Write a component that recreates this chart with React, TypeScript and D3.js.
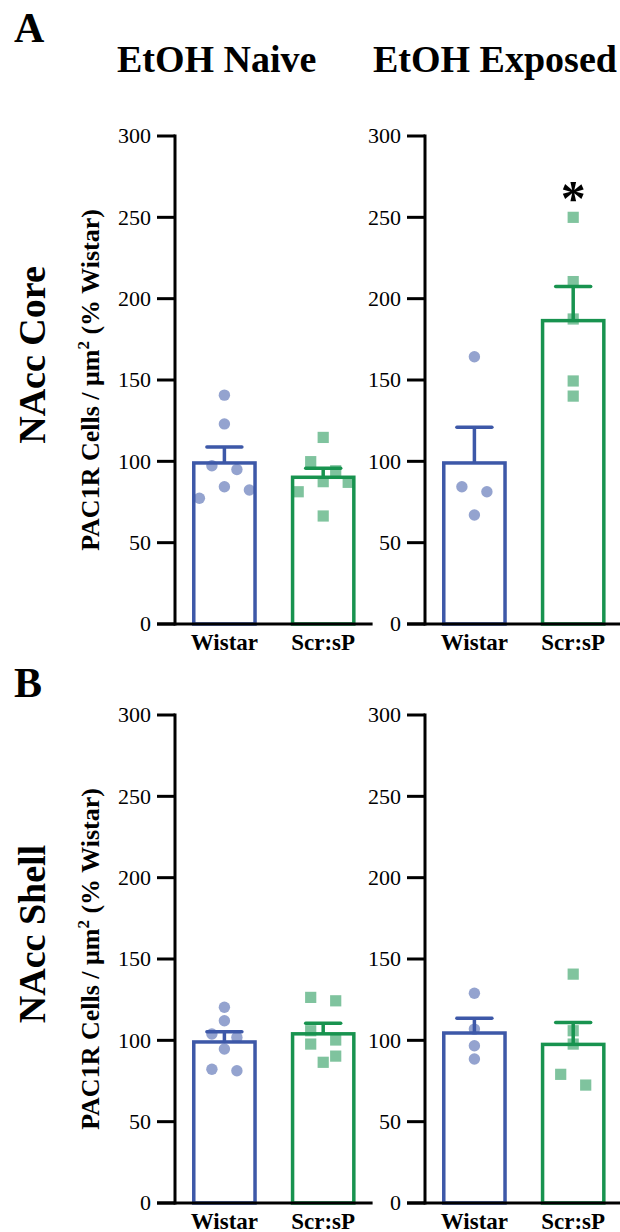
import * as d3 from "d3";

const FONT = "'Liberation Serif', 'Times New Roman', serif";
const BLUE = "#3d58a8";
const GREEN = "#18934f";

const groups = ["Wistar", "Scr:sP"];
const ticks = [0, 50, 100, 150, 200, 250, 300];

// NAcc core
const coreNaiveWistar = [140.7, 123, 97.3, 95, 84.4, 82.4, 77.3];
const coreNaiveScr = [114.7, 99.8, 94.2, 87.5, 87.1, 81.3, 66.4];
const coreNaiveMean = [99, 90.2];
const coreNaiveSem = [9.8, 5.5];

const coreExposedWistar = [164.3, 84.4, 81.3, 67];
const coreExposedScr = [250, 210.5, 187.5, 149.4, 140.1];
const coreExposedMean = [99, 186.5];
const coreExposedSem = [22, 21];

// NAcc shell
const shellNaiveWistar = [120.3, 112, 103.9, 101.8, 94.7, 82.2, 81.3];
const shellNaiveScr = [126.4, 124.3, 105.9, 100.2, 97.7, 90.3, 86.5];
const shellNaiveMean = [99, 104];
const shellNaiveSem = [6.3, 6.5];

const shellExposedWistar = [128.9, 106.9, 96.7, 88.5];
const shellExposedScr = [140.7, 105.9, 97.7, 79.1, 72.5];
const shellExposedMean = [104.5, 97.5];
const shellExposedSem = [9, 13.5];

// value at which the significance star sits
const starValue = 265;

// spread points that sit at about the same height into symmetric rows (prism style)
function dodge(values: number[], y: (v: number) => number, step: number, rowH: number) {
  const sorted = values.map((v, i) => ({ v, i })).sort((a, b) => b.v - a.v);
  const offsets = new Array(values.length).fill(0);
  let row: { v: number; i: number }[] = [];
  const flush = () => {
    const n = row.length;
    row.forEach((p, k) => {
      let off;
      if (n % 2 === 1) off = k === 0 ? 0 : (k % 2 === 1 ? 1 : -1) * Math.ceil(k / 2);
      else off = (k % 2 === 0 ? -1 : 1) * (Math.floor(k / 2) + 0.5);
      offsets[p.i] = off * step;
    });
    row = [];
  };
  for (const p of sorted) {
    if (row.length && y(p.v) - y(row[0].v) >= rowH) flush();
    row.push(p);
  }
  flush();
  return offsets;
}

type PanelProps = {
  axisX: number;
  top: number;
  bottom: number;
  points: number[][];
  means: number[];
  sems: number[];
  star?: boolean;
};

const Panel = ({ axisX, top, bottom, points, means, sems, star }: PanelProps) => {
  const y = d3.scaleLinear().domain([0, 300]).range([bottom, top]);
  const x = d3
    .scaleBand()
    .domain(groups)
    .range([axisX, axisX + 197.6])
    .paddingInner(0.38)
    .paddingOuter(0.19);
  const bw = x.bandwidth();
  const colors = [BLUE, GREEN];
  const tickLen = 18;

  return (
    <g>
      {/* bars */}
      {groups.map((g, i) => (
        <rect
          key={g}
          x={x(g)!}
          y={y(means[i])}
          width={bw}
          height={y(0) - y(means[i])}
          fill="none"
          stroke={colors[i]}
          strokeWidth={3.5}
        />
      ))}
      {/* individual points */}
      {groups.map((g, i) => {
        const cx = x(g)! + bw / 2;
        const offs = dodge(points[i], y, 25, 12.5);
        return (
          <g key={g} fill={colors[i]} opacity={0.55}>
            {points[i].map((v, j) =>
              i === 0 ? (
                <circle key={j} cx={cx + offs[j]} cy={y(v)} r={5.7} />
              ) : (
                <rect key={j} x={cx + offs[j] - 5.6} y={y(v) - 5.6} width={11.2} height={11.2} />
              )
            )}
          </g>
        );
      })}
      {/* error bars */}
      {groups.map((g, i) => {
        const cx = x(g)! + bw / 2;
        const yt = y(means[i] + sems[i]);
        return (
          <g key={g} stroke={colors[i]} strokeWidth={3.5}>
            <line x1={cx} x2={cx} y1={y(means[i])} y2={yt} />
            <line x1={cx - 17.5} x2={cx + 17.5} y1={yt} y2={yt} strokeLinecap="round" />
          </g>
        );
      })}
      {/* y axis */}
      <line x1={axisX} x2={axisX} y1={top - 1.5} y2={bottom + 1.5} stroke="#000" strokeWidth={3} />
      {ticks.map((t) => (
        <g key={t}>
          <line x1={axisX - tickLen} x2={axisX} y1={y(t)} y2={y(t)} stroke="#000" strokeWidth={3} />
          <text
            x={axisX - tickLen - 6}
            y={y(t)}
            dy="0.33em"
            textAnchor="end"
            fontFamily={FONT}
            fontSize={22}
          >
            {t}
          </text>
        </g>
      ))}
      {/* x axis */}
      <line x1={axisX - tickLen} x2={axisX + 197.6} y1={bottom} y2={bottom} stroke="#000" strokeWidth={3} />
      {groups.map((g) => (
        <text
          key={g}
          x={x(g)! + bw / 2}
          y={bottom + 26}
          textAnchor="middle"
          fontFamily={FONT}
          fontWeight="bold"
          fontSize={23}
        >
          {g}
        </text>
      ))}
      {star && (
        <text
          x={x("Scr:sP")! + bw / 2}
          y={y(starValue) + 22}
          textAnchor="middle"
          fontFamily={FONT}
          fontWeight="bold"
          fontSize={50}
        >
          *
        </text>
      )}
    </g>
  );
};

const YTitle = ({ cy, label }: { cy: number; label: string }) => (
  <g fontFamily={FONT} fontWeight="bold">
    <text transform={`translate(45,${cy - 25}) rotate(-90)`} textAnchor="middle" fontSize={38}>
      {label}
    </text>
    <text transform={`translate(99,${cy}) rotate(-90)`} textAnchor="middle" fontSize={26}>
      PAC1R Cells / μm
      <tspan dy={-10} fontSize={17}>
        2
      </tspan>
      <tspan dy={10}> (% Wistar)</tspan>
    </text>
  </g>
);

export default function App() {
  const A = { top: 136, bottom: 624 };
  const B = { top: 715, bottom: 1203 };
  const left = 175;
  const right = 425;
  return (
    <svg
      width={620}
      height={1232}
      style={{ position: "absolute", left: 0, top: 0, display: "block", background: "#fff" }}
    >
      <text x={14} y={42} fontFamily={FONT} fontWeight="bold" fontSize={42}>
        A
      </text>
      <text x={117} y={72} fontFamily={FONT} fontWeight="bold" fontSize={38}>
        EtOH Naive
      </text>
      <text x={373} y={72} fontFamily={FONT} fontWeight="bold" fontSize={38}>
        EtOH Exposed
      </text>
      <text x={14} y={697} fontFamily={FONT} fontWeight="bold" fontSize={42}>
        B
      </text>

      <YTitle cy={(A.top + A.bottom) / 2} label="NAcc Core" />
      <YTitle cy={(B.top + B.bottom) / 2} label="NAcc Shell" />

      <Panel
        axisX={left}
        {...A}
        points={[coreNaiveWistar, coreNaiveScr]}
        means={coreNaiveMean}
        sems={coreNaiveSem}
      />
      <Panel
        axisX={right}
        {...A}
        points={[coreExposedWistar, coreExposedScr]}
        means={coreExposedMean}
        sems={coreExposedSem}
        star
      />
      <Panel
        axisX={left}
        {...B}
        points={[shellNaiveWistar, shellNaiveScr]}
        means={shellNaiveMean}
        sems={shellNaiveSem}
      />
      <Panel
        axisX={right}
        {...B}
        points={[shellExposedWistar, shellExposedScr]}
        means={shellExposedMean}
        sems={shellExposedSem}
      />
    </svg>
  );
}
